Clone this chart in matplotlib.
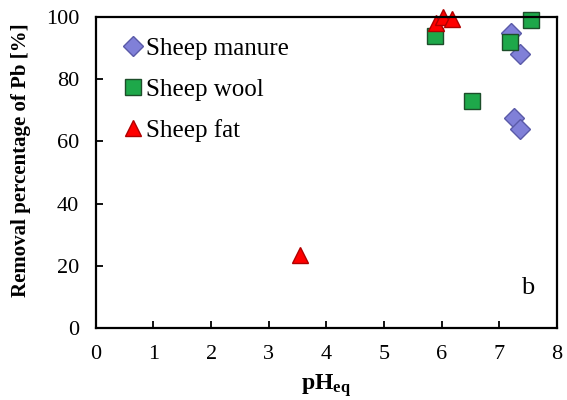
import matplotlib.pyplot as plt

plt.rcParams['font.family'] = ['Liberation Serif', 'DejaVu Serif']
plt.rcParams['mathtext.fontset'] = 'custom'
plt.rcParams['mathtext.rm'] = 'Liberation Serif'
plt.rcParams['mathtext.bf'] = 'Liberation Serif:bold'

# data
manure_ph = [7.21, 7.36, 7.25, 7.36]
manure_rem = [95, 88, 67.5, 64]
wool_ph = [5.88, 7.19, 7.56, 6.52]
wool_rem = [94, 92, 99, 73]
fat_ph = [5.91, 6.02, 6.19, 3.55]
fat_rem = [98, 100, 99.5, 23.5]

fig = plt.figure(figsize=(5.67, 4.0), dpi=100)
ax = fig.add_axes([0.169, 0.18, 0.813, 0.7775])

ax.plot(manure_ph, manure_rem, ls='none', marker='D', ms=10,
        mfc='#8080d8', mec='#5a5aa8', mew=1, label='Sheep manure', clip_on=False)
ax.plot(wool_ph, wool_rem, ls='none', marker='s', ms=11.5,
        mfc='#1ea84a', mec='#1d4d2a', mew=1, label='Sheep wool', clip_on=False)
ax.plot(fat_ph, fat_rem, ls='none', marker='^', ms=12,
        mfc='#ff0000', mec='#b00000', mew=1, label='Sheep fat', clip_on=False)

ax.set_xlim(0, 8)
ax.set_ylim(0, 100)
ax.set_xticks(range(0, 9))
ax.set_yticks(range(0, 101, 20))
ax.tick_params(direction='in', labelsize=16, length=5, width=1.3,
               top=False, right=False, pad=12)
for s in ax.spines.values():
    s.set_linewidth(1.6)

ax.set_xlabel('$\\mathbf{pH_{eq}}$', fontsize=17, labelpad=6)
ax.set_ylabel('Removal percentage of Pb [%]', fontsize=15, fontweight='bold')
ax.yaxis.set_label_coords(-0.14, 0.54)
ax.text(7.5, 13, 'b', fontsize=19, ha='center', va='center')

ax.legend(loc='upper left', frameon=False, fontsize=18, handletextpad=0.12,
          handlelength=0.8, labelspacing=0.72, borderaxespad=0.3,
          bbox_to_anchor=(0.02, 0.99))

fig.savefig('out.png', dpi=100)
